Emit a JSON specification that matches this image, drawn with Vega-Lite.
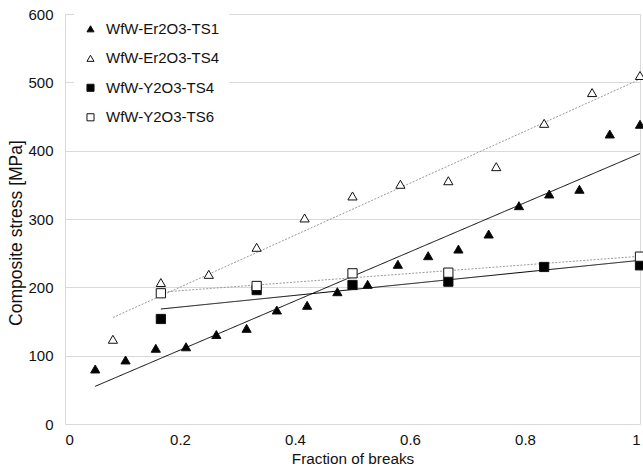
{
  "$schema": "https://vega.github.io/schema/vega-lite/v6.json",
  "width": 575,
  "height": 410,
  "autosize": "none",
  "padding": {"left": 65, "top": 14, "right": 3, "bottom": 45},
  "background": "white",
  "config": {
    "view": {"stroke": "#d9d9d9", "strokeWidth": 1},
    "font": "Liberation Sans",
    "axis": {"labelFont": "Liberation Sans", "titleFont": "Liberation Sans", "labelColor": "#111", "titleColor": "#111", "titleFontWeight": "normal", "labelFontSize": 15, "titleFontSize": 15}
  },
  "data": {
    "values": [
      {"series": "WfW-Er2O3-TS1", "frac": 0.0526, "stress": 80.5},
      {"series": "WfW-Er2O3-TS1", "frac": 0.1053, "stress": 93.7},
      {"series": "WfW-Er2O3-TS1", "frac": 0.1579, "stress": 110.8},
      {"series": "WfW-Er2O3-TS1", "frac": 0.2105, "stress": 113},
      {"series": "WfW-Er2O3-TS1", "frac": 0.2632, "stress": 131},
      {"series": "WfW-Er2O3-TS1", "frac": 0.3158, "stress": 140},
      {"series": "WfW-Er2O3-TS1", "frac": 0.3684, "stress": 166.8},
      {"series": "WfW-Er2O3-TS1", "frac": 0.4211, "stress": 173.7},
      {"series": "WfW-Er2O3-TS1", "frac": 0.4737, "stress": 193.6},
      {"series": "WfW-Er2O3-TS1", "frac": 0.5263, "stress": 204.4},
      {"series": "WfW-Er2O3-TS1", "frac": 0.5789, "stress": 233.7},
      {"series": "WfW-Er2O3-TS1", "frac": 0.6316, "stress": 246.3},
      {"series": "WfW-Er2O3-TS1", "frac": 0.6842, "stress": 256},
      {"series": "WfW-Er2O3-TS1", "frac": 0.7368, "stress": 278},
      {"series": "WfW-Er2O3-TS1", "frac": 0.7895, "stress": 319.5},
      {"series": "WfW-Er2O3-TS1", "frac": 0.8421, "stress": 336.6},
      {"series": "WfW-Er2O3-TS1", "frac": 0.8947, "stress": 343.5},
      {"series": "WfW-Er2O3-TS1", "frac": 0.9474, "stress": 424.4},
      {"series": "WfW-Er2O3-TS1", "frac": 1.0, "stress": 438.6},
      {"series": "WfW-Er2O3-TS4", "frac": 0.0833, "stress": 124},
      {"series": "WfW-Er2O3-TS4", "frac": 0.1667, "stress": 207},
      {"series": "WfW-Er2O3-TS4", "frac": 0.25, "stress": 219},
      {"series": "WfW-Er2O3-TS4", "frac": 0.3333, "stress": 258.6},
      {"series": "WfW-Er2O3-TS4", "frac": 0.4167, "stress": 301.5},
      {"series": "WfW-Er2O3-TS4", "frac": 0.5, "stress": 333.7},
      {"series": "WfW-Er2O3-TS4", "frac": 0.5833, "stress": 350.8},
      {"series": "WfW-Er2O3-TS4", "frac": 0.6667, "stress": 356},
      {"series": "WfW-Er2O3-TS4", "frac": 0.75, "stress": 376.6},
      {"series": "WfW-Er2O3-TS4", "frac": 0.8333, "stress": 440},
      {"series": "WfW-Er2O3-TS4", "frac": 0.9167, "stress": 485},
      {"series": "WfW-Er2O3-TS4", "frac": 1.0, "stress": 510},
      {"series": "WfW-Y2O3-TS4", "frac": 0.1667, "stress": 153.7},
      {"series": "WfW-Y2O3-TS4", "frac": 0.3333, "stress": 196},
      {"series": "WfW-Y2O3-TS4", "frac": 0.5, "stress": 203.4},
      {"series": "WfW-Y2O3-TS4", "frac": 0.6667, "stress": 208.3},
      {"series": "WfW-Y2O3-TS4", "frac": 0.8333, "stress": 229.8},
      {"series": "WfW-Y2O3-TS4", "frac": 1.0, "stress": 232.2},
      {"series": "WfW-Y2O3-TS6", "frac": 0.1667, "stress": 191.3},
      {"series": "WfW-Y2O3-TS6", "frac": 0.3333, "stress": 202},
      {"series": "WfW-Y2O3-TS6", "frac": 0.5, "stress": 220.5},
      {"series": "WfW-Y2O3-TS6", "frac": 0.6667, "stress": 221.5},
      {"series": "WfW-Y2O3-TS6", "frac": 1.0, "stress": 244.9}
    ]
  },
  "encoding": {
    "x": {"field": "frac", "type": "quantitative", "scale": {"domain": [0, 1]}, "axis": {"title": "Fraction of breaks", "titleFontSize": 15.3, "values": [0, 0.2, 0.4, 0.6, 0.8, 1], "format": "~g", "grid": false, "ticks": false, "domain": false, "labelPadding": 8, "titleX": 287.5, "titleAlign": "center", "titleY": 39.3, "titleBaseline": "alphabetic"}},
    "y": {"field": "stress", "type": "quantitative", "scale": {"domain": [0, 600]}, "axis": {"title": "Composite stress [MPa]", "titleFontSize": 17.5, "values": [0, 100, 200, 300, 400, 500, 600], "grid": true, "gridColor": "#d9d9d9", "ticks": false, "domain": false, "labelPadding": 12, "titleX": -48.5, "titleY": 218.5, "titleBaseline": "middle", "titleAlign": "center", "titleAngle": -90}}
  },
  "layer": [
    {
      "transform": [{"regression": "stress", "on": "frac", "groupby": ["series"]}],
      "mark": {"type": "line", "strokeWidth": 1},
      "encoding": {
        "detail": {"field": "series", "type": "nominal"},
        "stroke": {"condition": {"test": "indexof(datum.series, 'TS1') >= 0 || datum.series == 'WfW-Y2O3-TS4'", "value": "#000000"}, "value": "#9a9a9a"},
        "strokeDash": {"condition": {"test": "indexof(datum.series, 'TS1') >= 0 || datum.series == 'WfW-Y2O3-TS4'", "value": [1, 0]}, "value": [2, 1.5]}
      }
    },
    {
      "mark": {"type": "point", "filled": true, "stroke": "#111", "strokeWidth": 1, "opacity": 1, "size": 85},
      "encoding": {
        "shape": {"field": "series", "type": "nominal", "scale": {"domain": ["WfW-Er2O3-TS1", "WfW-Er2O3-TS4", "WfW-Y2O3-TS4", "WfW-Y2O3-TS6"], "range": ["triangle-up", "triangle-up", "square", "square"]},
          "legend": {"title": null, "orient": "none", "legendX": 9, "legendY": -1.7, "padding": 9, "fillColor": "white", "labelFontSize": 15, "labelFont": "Liberation Sans", "labelColor": "#111", "symbolSize": 50, "labelOffset": 8, "rowPadding": 13.5, "symbolStrokeColor": "#111", "symbolStrokeWidth": 1, "symbolFillColor": "black", "symbolOpacity": 1,
            "encode": {"symbols": {"update": {"fill": {"signal": "(datum.value == 'WfW-Er2O3-TS4' || datum.value == 'WfW-Y2O3-TS6') ? '#ffffff' : '#000000'"}, "stroke": {"value": "#111111"}, "strokeWidth": {"value": 1}}}}}},
        "fill": {"field": "series", "type": "nominal", "scale": {"domain": ["WfW-Er2O3-TS1", "WfW-Er2O3-TS4", "WfW-Y2O3-TS4", "WfW-Y2O3-TS6"], "range": ["#000000", "#ffffff", "#000000", "#ffffff"]}, "legend": null}
      }
    }
  ]
}
